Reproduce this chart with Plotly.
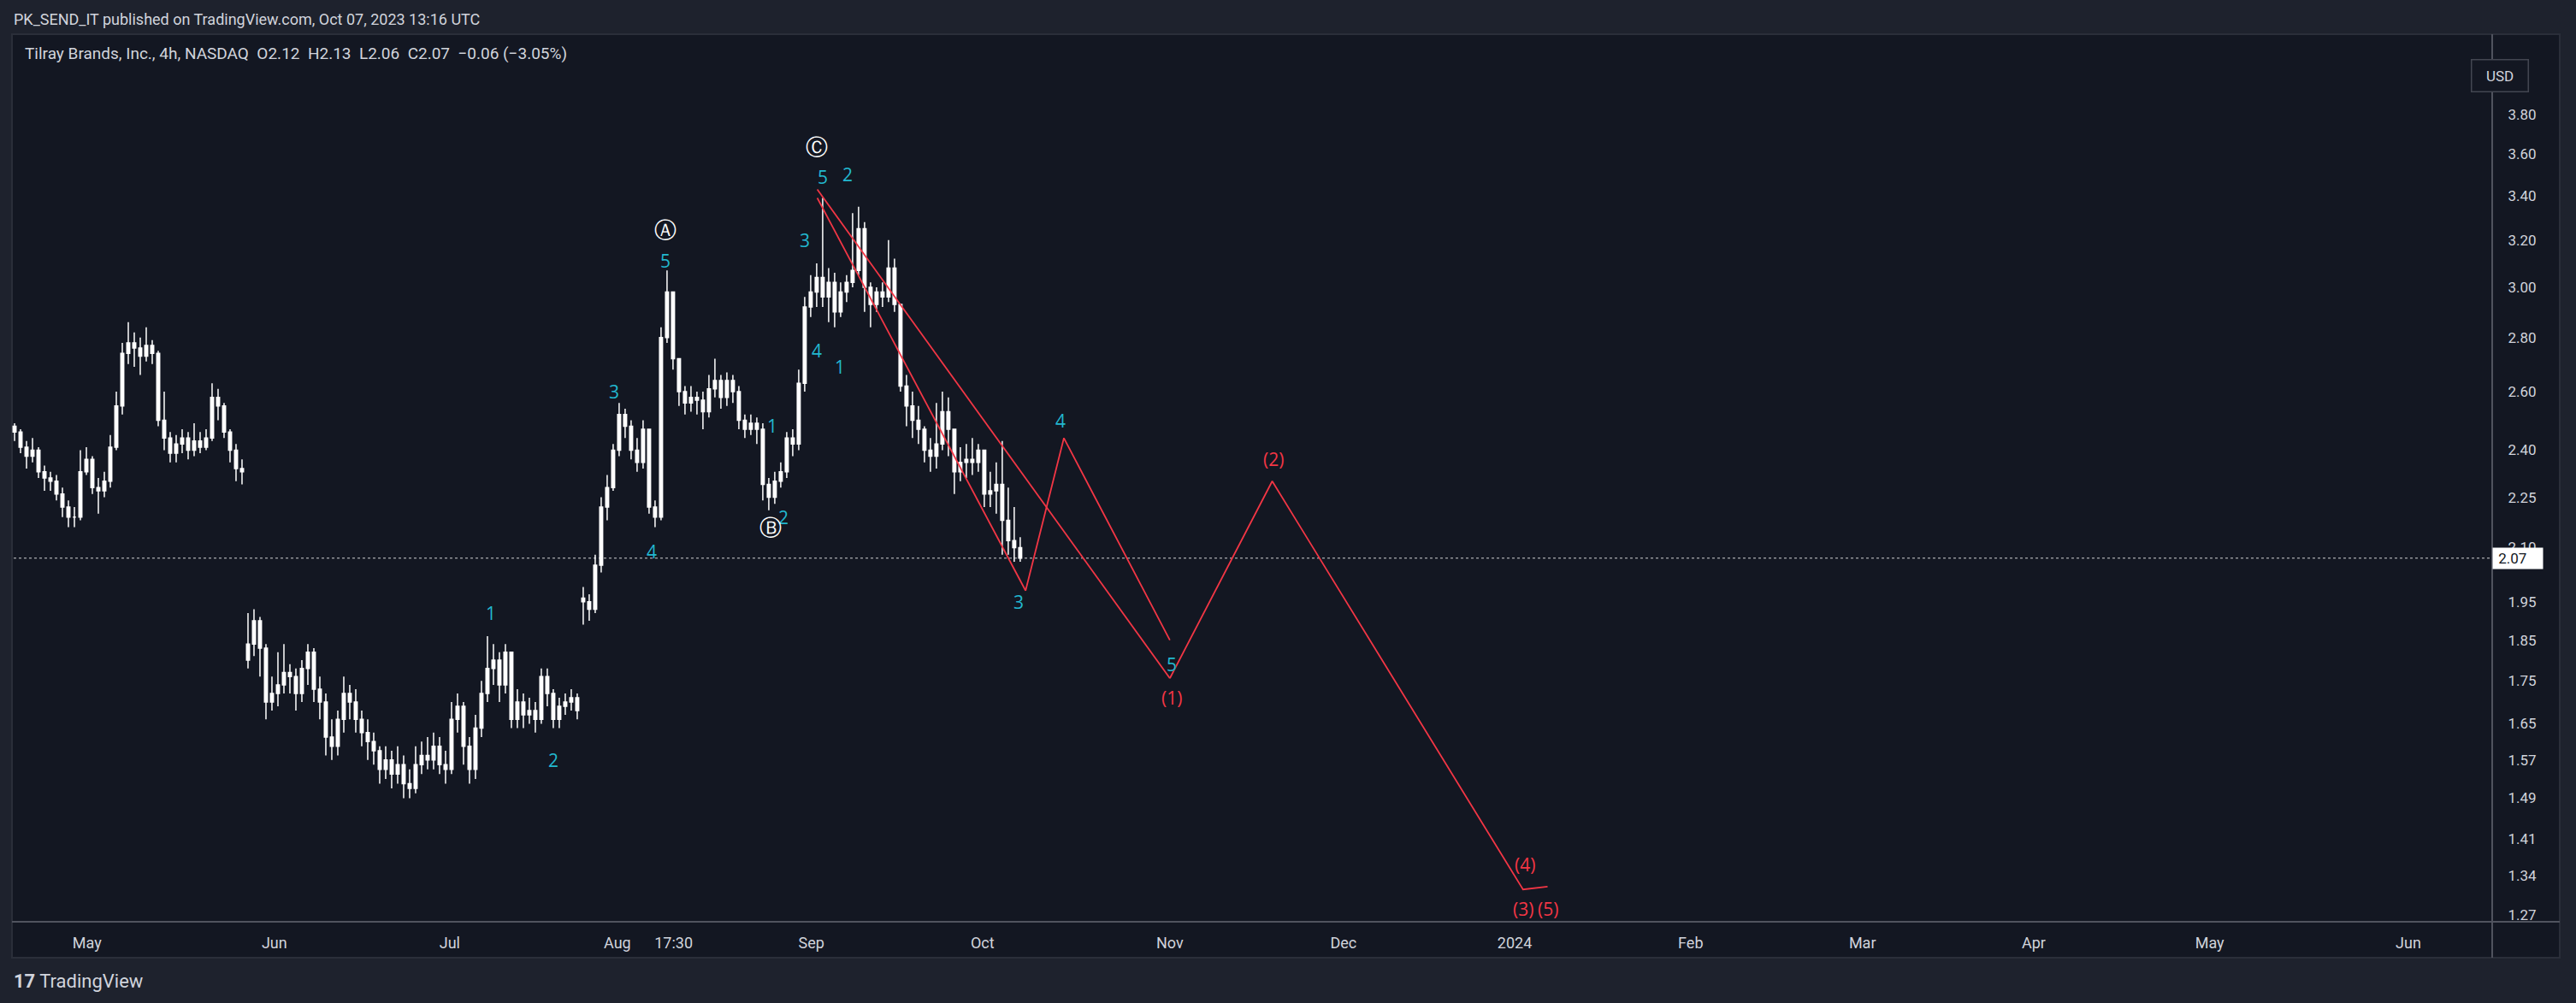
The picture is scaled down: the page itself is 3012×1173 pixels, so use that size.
import math
import plotly.graph_objects as go

# 4h candles, index = bar number (TradingView skips closed hours)
closes = [
    2.46, 2.41, 2.38, 2.40, 2.33, 2.31, 2.30, 2.26, 2.22, 2.19, 2.19, 2.33, 2.37, 2.28, 2.27, 2.30,
    2.41, 2.55, 2.74, 2.78, 2.76, 2.73, 2.77, 2.74, 2.50, 2.44, 2.39, 2.42, 2.44, 2.40, 2.43, 2.41,
    2.44, 2.58, 2.55, 2.46, 2.40, 2.34, 2.33,
    1.84, 1.90, 1.83, 1.70, 1.72, 1.74, 1.77, 1.76, 1.72, 1.78, 1.82, 1.73, 1.70, 1.62, 1.60, 1.66,
    1.72, 1.70, 1.66, 1.63, 1.61, 1.59, 1.55, 1.57, 1.54, 1.56, 1.52, 1.51, 1.56, 1.58, 1.57, 1.60,
    1.56, 1.55, 1.66, 1.69, 1.60, 1.55, 1.64, 1.72, 1.78, 1.80, 1.74, 1.82, 1.66, 1.70, 1.67, 1.68,
    1.66, 1.76, 1.72, 1.66, 1.69, 1.70, 1.71, 1.68,
    1.95, 1.93, 2.05, 2.22, 2.28, 2.40, 2.52, 2.48, 2.40, 2.36, 2.47, 2.22, 2.19, 2.80, 2.98, 2.72,
    2.60, 2.56, 2.58, 2.57, 2.53, 2.61, 2.64, 2.58, 2.64, 2.60, 2.50, 2.47, 2.49, 2.47, 2.29, 2.25,
    2.30, 2.33, 2.44, 2.42, 2.63, 2.92, 2.98, 3.04, 2.96, 3.02, 2.90, 2.98, 3.02, 3.07, 3.25, 3.00,
    2.93, 2.98, 2.96, 3.08, 2.93, 2.62, 2.55, 2.50, 2.47, 2.40, 2.38, 2.42, 2.53, 2.47, 2.33, 2.36,
    2.37, 2.36, 2.40, 2.26, 2.27, 2.29, 2.18, 2.12, 2.10, 2.07,
]
highs = [
    2.49, 2.47, 2.43, 2.44, 2.41, 2.35, 2.33, 2.32, 2.28, 2.24, 2.22, 2.40, 2.41, 2.38, 2.31, 2.33,
    2.45, 2.60, 2.78, 2.86, 2.82, 2.80, 2.84, 2.79, 2.75, 2.60, 2.46, 2.45, 2.47, 2.46, 2.49, 2.46,
    2.47, 2.63, 2.61, 2.56, 2.47, 2.42, 2.37,
    1.92, 1.93, 1.91, 1.84, 1.76, 1.82, 1.84, 1.79, 1.78, 1.80, 1.84, 1.83, 1.76, 1.72, 1.66, 1.68,
    1.76, 1.74, 1.73, 1.68, 1.66, 1.63, 1.60, 1.60, 1.59, 1.60, 1.58, 1.55, 1.60, 1.61, 1.62, 1.63,
    1.62, 1.59, 1.70, 1.72, 1.70, 1.62, 1.67, 1.75, 1.86, 1.84, 1.82, 1.84, 1.82, 1.73, 1.72, 1.71,
    1.70, 1.78, 1.78, 1.73, 1.71, 1.72, 1.73, 1.72,
    1.99, 1.97, 2.08, 2.25, 2.32, 2.42, 2.56, 2.54, 2.50, 2.44, 2.50, 2.47, 2.24, 2.84, 3.07, 2.98,
    2.70, 2.62, 2.62, 2.60, 2.60, 2.66, 2.72, 2.66, 2.67, 2.66, 2.62, 2.52, 2.52, 2.51, 2.49, 2.31,
    2.33, 2.36, 2.46, 2.47, 2.68, 2.96, 3.05, 3.10, 3.39, 3.08, 3.06, 3.02, 3.05, 3.32, 3.35, 3.28,
    3.02, 3.00, 3.02, 3.20, 3.12, 2.93, 2.66, 2.60, 2.55, 2.48, 2.44, 2.56, 2.60, 2.58, 2.44, 2.41,
    2.42, 2.44, 2.42, 2.40, 2.33, 2.36, 2.43, 2.28, 2.22, 2.13,
]
lows = [
    2.43, 2.39, 2.34, 2.36, 2.31, 2.27, 2.27, 2.24, 2.19, 2.16, 2.16, 2.18, 2.32, 2.26, 2.20, 2.25,
    2.28, 2.40, 2.52, 2.70, 2.69, 2.66, 2.71, 2.70, 2.48, 2.40, 2.36, 2.36, 2.39, 2.37, 2.38, 2.39,
    2.40, 2.43, 2.50, 2.44, 2.36, 2.30, 2.29,
    1.78, 1.81, 1.76, 1.66, 1.68, 1.69, 1.72, 1.72, 1.68, 1.70, 1.74, 1.70, 1.66, 1.58, 1.57, 1.58,
    1.63, 1.66, 1.63, 1.60, 1.57, 1.56, 1.52, 1.53, 1.51, 1.52, 1.49, 1.49, 1.50, 1.54, 1.55, 1.55,
    1.54, 1.52, 1.54, 1.63, 1.56, 1.52, 1.53, 1.62, 1.70, 1.74, 1.70, 1.72, 1.64, 1.64, 1.64, 1.65,
    1.63, 1.65, 1.69, 1.64, 1.64, 1.67, 1.68, 1.66,
    1.89, 1.90, 1.92, 2.03, 2.18, 2.27, 2.38, 2.44, 2.37, 2.33, 2.34, 2.20, 2.16, 2.18, 2.78, 2.68,
    2.55, 2.52, 2.53, 2.52, 2.47, 2.51, 2.58, 2.54, 2.55, 2.56, 2.47, 2.44, 2.45, 2.42, 2.24, 2.21,
    2.23, 2.28, 2.31, 2.38, 2.40, 2.60, 2.88, 2.92, 2.92, 2.86, 2.84, 2.88, 2.94, 3.00, 3.05, 2.90,
    2.84, 2.90, 2.92, 2.94, 2.90, 2.60, 2.48, 2.44, 2.42, 2.36, 2.33, 2.34, 2.40, 2.38, 2.26, 2.30,
    2.31, 2.32, 2.33, 2.22, 2.22, 2.20, 2.08, 2.08, 2.06, 2.06,
]
gap_opens = {0: 2.48, 39: 1.80, 95: 1.96}
opens = [gap_opens.get(i, closes[i - 1] if i else 0) for i in range(len(closes))]
bars = list(range(len(closes)))

last_price = 2.07

# time axis labels (bar positions)
date_ticks = [12.1, 43.4, 72.7, 100.7, 110.1, 133.1, 161.7, 193.0, 222.0, 250.6, 280.0, 308.7, 337.3, 366.7, 399.9]
date_labels = ["May", "Jun", "Jul", "Aug", "17:30", "Sep", "Oct", "Nov", "Dec", "2024",
               "Feb", "Mar", "Apr", "May", "Jun"]
price_ticks = [3.80, 3.60, 3.40, 3.20, 3.00, 2.80, 2.60, 2.40, 2.25, 2.10, 1.95, 1.85, 1.75,
               1.65, 1.57, 1.49, 1.41, 1.34, 1.27]

# drawings (bar, price)
wedge_upper = [(134.1, 3.43), (193.0, 1.756)]
wedge_lower = [(134.1, 3.39), (168.9, 1.98)]
zigzag_minor = [(168.9, 1.98), (175.3, 2.44), (193.0, 1.85)]
zigzag_major = [(193.0, 1.756), (210.1, 2.30), (252.0, 1.315), (256.1, 1.32)]

wave_labels = [  # (bar, price, text, colour key)
    (79.6, 1.92, "1", "c"), (90.0, 1.57, "2", "c"), (100.2, 2.60, "3", "c"), (106.5, 2.09, "4", "c"),
    (108.7, 3.11, "5", "c"), (126.6, 2.48, "1", "c"), (128.5, 2.19, "2", "c"), (132.0, 3.20, "3", "c"),
    (134.0, 2.75, "4", "c"), (135.0, 3.49, "5", "c"), (137.9, 2.69, "1", "c"), (139.1, 3.50, "2", "c"),
    (167.7, 1.95, "3", "c"), (174.8, 2.50, "4", "c"), (193.3, 1.79, "5", "c"),
    (108.7, 3.25, "Ⓐ", "w"), (126.3, 2.16, "Ⓑ", "w"), (134.0, 3.64, "Ⓒ", "w"),
    (193.3, 1.71, "(1)", "r"), (210.3, 2.37, "(2)", "r"), (252.0, 1.28, "(3)", "r"),
    (252.3, 1.36, "(4)", "r"), (256.1, 1.28, "(5)", "r"),
]

RED = "#f23645"
CYAN = "#22b8cf"
BG = "#131722"
OUTER = "#1e222d"
TXT = "#d1d4dc"
FONT = "Roboto"

fig = go.Figure()
fig.add_trace(go.Candlestick(
    x=bars, open=opens, high=highs, low=lows, close=closes,
    increasing=dict(line=dict(color="white", width=1.5), fillcolor="white"),
    decreasing=dict(line=dict(color="white", width=1.5), fillcolor="white"),
    whiskerwidth=0, hoverinfo="skip", showlegend=False,
))

fig.add_trace(go.Scatter(x=[-1, 420], y=[last_price, last_price], mode="lines",
                         line=dict(color="rgba(255,255,255,0.8)", width=1.2, dash="dot"),
                         showlegend=False, hoverinfo="skip"))

for pts in (wedge_upper, wedge_lower, zigzag_minor, zigzag_major):
    fig.add_trace(go.Scatter(x=[p[0] for p in pts], y=[p[1] for p in pts], mode="lines",
                             line=dict(color=RED, width=1.8), showlegend=False, hoverinfo="skip"))

colours = {"c": CYAN, "w": "white", "r": RED}
for bx, pr, txt, ck in wave_labels:
    fig.add_annotation(x=bx, y=math.log10(pr), text=txt, showarrow=False,
                       font=dict(family="Open Sans", size=26 if ck == "w" else 21, color=colours[ck]))

# header, legend, logo
fig.add_annotation(xref="paper", yref="paper", x=0, y=1.0164, xanchor="left", yanchor="middle",
                   text="PK_SEND_IT published on TradingView.com, Oct 07, 2023 13:16 UTC",
                   showarrow=False, font=dict(family=FONT, size=18, color=TXT))
fig.add_annotation(xref="paper", yref="paper", x=13 / 2900, y=(1078 - 63) / 1038, xanchor="left",
                   yanchor="middle", showarrow=False,
                   text="Tilray Brands, Inc., 4h, NASDAQ  O2.12  H2.13  L2.06  C2.07  −0.06 (−3.05%)",
                   font=dict(family=FONT, size=19, color=TXT))
fig.add_annotation(xref="paper", yref="paper", x=0, y=(1078 - 1147) / 1038, xanchor="left",
                   yanchor="middle", showarrow=False, text="<b>17</b> TradingView",
                   font=dict(family=FONT, size=22, color=TXT))
fig.add_annotation(xref="paper", yref="paper", x=(2957 - 14) / 2900, y=(1078 - 69) / 1038,
                   showarrow=False, text="  USD  ", bordercolor="#434651", borderwidth=1.5,
                   borderpad=8, bgcolor=BG, font=dict(family=FONT, size=17, color=TXT))
fig.add_annotation(xref="paper", yref="y", x=1.0, y=math.log10(last_price), xanchor="left",
                   showarrow=False, text=" 2.07    ", bgcolor="white", borderpad=2, align="left",
                   font=dict(family=FONT, size=17, color=BG))

# chart panel, separators
fig.add_shape(type="rect", xref="paper", yref="paper", x0=0, x1=2979 / 2900, y0=-42 / 1038, y1=1,
              fillcolor=BG, line=dict(color="#2a2e39", width=2), layer="below")
fig.add_shape(type="line", xref="paper", yref="paper", x0=1, x1=1, y0=-42 / 1038, y1=1,
              line=dict(color="#50535e", width=2))
fig.add_shape(type="line", xref="paper", yref="paper", x0=0, x1=2979 / 2900, y0=0, y1=0,
              line=dict(color="#50535e", width=2))

fig.update_layout(
    width=3012, height=1173,
    margin=dict(l=14, r=98, t=40, b=95),
    paper_bgcolor=OUTER, plot_bgcolor=BG,
    font=dict(family=FONT, color=TXT),
    xaxis=dict(range=[-0.43, 413.9], tickvals=date_ticks, ticktext=date_labels,
               showgrid=False, zeroline=False, rangeslider=dict(visible=False),
               ticks="outside", ticklen=8, tickcolor=BG, tickfont=dict(size=18, color=TXT)),
    yaxis=dict(type="log", side="right", range=[0.0997, 0.6276], tickvals=price_ticks,
               ticktext=[f"{v:.2f}" for v in price_ticks], showgrid=False, zeroline=False,
               ticks="outside", ticklen=14, tickcolor=BG, tickfont=dict(size=17, color=TXT)),
)

fig.write_html("out.html", config={"displayModeBar": False},
               post_script="document.body.style.margin='0px';")
